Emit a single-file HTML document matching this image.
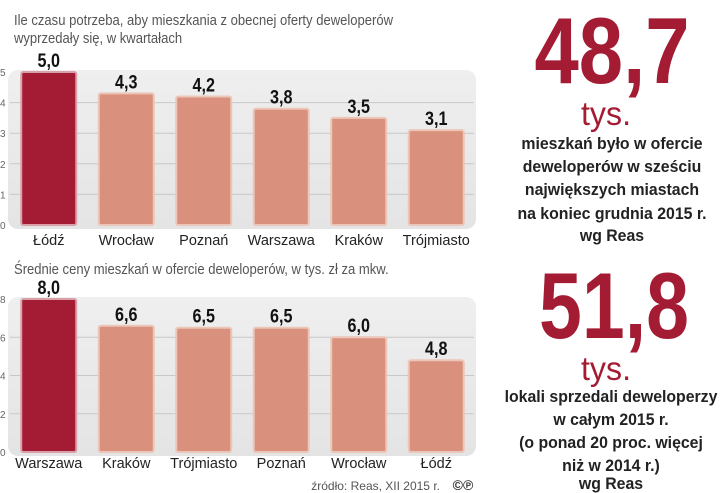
<!DOCTYPE html>
<html><head><meta charset="utf-8"><style>
body{margin:0;background:#fff;width:720px;height:493px;overflow:hidden}
svg{display:block;font-family:"Liberation Sans Narrow","Liberation Sans",sans-serif}
</style></head><body>
<svg id="s" width="720" height="493" viewBox="0 0 720 493">
<defs>
<linearGradient id="pg" x1="0" y1="0" x2="0" y2="1"><stop offset="0" stop-color="#efefef"/><stop offset="1" stop-color="#e4e4e4"/></linearGradient>
</defs>
<g transform="translate(14,0) scale(0.9,1) translate(-14,0)">
<text x="14" y="25" font-size="14.5" fill="#555">Ile czasu potrzeba, aby mieszkania z obecnej oferty deweloperów</text>
<text x="14" y="43" font-size="14.5" fill="#555">wyprzedały się, w kwartałach</text>
<text x="14" y="274" font-size="14.5" fill="#555">Średnie ceny mieszkań w ofercie deweloperów, w tys. zł za mkw.</text>
</g>
<g id="c1"></g>
<g id="c2"></g>
<text x="440" y="490" font-size="12" fill="#555" text-anchor="end">źródło: Reas, XII 2015 r.</text>
<text x="463" y="490" font-size="14" font-weight="bold" fill="#333" text-anchor="middle">©℗</text>

<text x="612" y="83" font-size="94" font-weight="bold" fill="#a31c33" text-anchor="middle" textLength="155" lengthAdjust="spacingAndGlyphs">48,7</text>
<text x="606" y="125" font-size="33" fill="#a31c33" text-anchor="middle" textLength="50" lengthAdjust="spacingAndGlyphs">tys.</text>
<g transform="translate(612,0) scale(0.96,1) translate(-612,0)" font-size="16.5" font-weight="bold" fill="#222" text-anchor="middle">
<text x="612" y="149">mieszkań było  w ofercie</text>
<text x="612" y="172">deweloperów  w sześciu</text>
<text x="612" y="195">największych miastach</text>
<text x="612" y="219">na koniec grudnia 2015 r.</text>
<text x="612" y="241">wg Reas</text>
</g>
<text x="614" y="338" font-size="94" font-weight="bold" fill="#a31c33" text-anchor="middle" textLength="150" lengthAdjust="spacingAndGlyphs">51,8</text>
<text x="606" y="380" font-size="33" fill="#a31c33" text-anchor="middle" textLength="50" lengthAdjust="spacingAndGlyphs">tys.</text>
<g transform="translate(611,0) scale(0.96,1) translate(-611,0)" font-size="16.5" font-weight="bold" fill="#222" text-anchor="middle">
<text x="611" y="402">lokali sprzedali deweloperzy</text>
<text x="611" y="425">w całym 2015 r.</text>
<text x="611" y="448">(o ponad 20 proc. więcej</text>
<text x="611" y="471">niż w 2014 r.)</text>
<text x="611" y="489">wg Reas</text>
</g>
</svg>
<script>
const cats1=["Łódź","Wrocław","Poznań","Warszawa","Kraków","Trójmiasto"];
const vals1=[5.0,4.3,4.2,3.8,3.5,3.1];
const ticks1=[0,1,2,3,4,5];
const cats2=["Warszawa","Kraków","Trójmiasto","Poznań","Wrocław","Łódź"];
const vals2=[8.0,6.6,6.5,6.5,6.0,4.8];
const ticks2=[0,2,4,6,8];
const NS="http://www.w3.org/2000/svg";
function mk(p,t,a){const e=document.createElementNS(NS,t);for(const k in a)e.setAttribute(k,a[k]);p.appendChild(e);return e;}
function draw(g,cats,vals,ticks,max,top,base,px0,px1,labY){
  const y=v=>base-(v/max)*(base-top);
  const bg=mk(g,'rect',{x:8,y:top-2,width:468,height:base-top+6,rx:10,fill:'url(#pg)'});
  
  
  ticks.forEach(t=>{
    if(t>0&&t<max){const l=mk(g,'line',{x1:10,x2:474,y1:y(t),y2:y(t),stroke:'#c8c8c8','stroke-width':1});
    
    }
    const tx=mk(g,'text',{x:0,y:y(t)+4,'font-size':10,fill:'#666'});tx.textContent=t;
    
    
  });
  const step=(px1-px0)/cats.length, bw=55;
  cats.forEach((c,i)=>{
    const cx=px0+step*(i+0.5), v=vals[i];
    const r=mk(g,'rect',{x:cx-bw/2,y:y(v),width:bw,height:base-y(v),fill:i==0?'#a31c33':'#d9917d',stroke:i==0?'#d8a0a8':'#ecc6b8','stroke-width':2,rx:2});
    
    
    const vt=mk(g,'text',{x:cx,y:y(v)-5,'font-size':19,'font-weight':'bold',fill:'#111','text-anchor':'middle',transform:`translate(${cx},0) scale(0.85,1) translate(${-cx},0)`});
    vt.textContent=v.toFixed(1).replace('.',',');
    
    
    const ct=mk(g,'text',{x:cx,y:labY,'font-size':14.5,fill:'#222','text-anchor':'middle'});
    ct.textContent=c;
    
    
  });
}
draw(document.getElementById('c1'),cats1,vals1,ticks1,5,72,225,10,475,245);
draw(document.getElementById('c2'),cats2,vals2,ticks2,8,299,452,10,475,468);
</script>
</body></html>
